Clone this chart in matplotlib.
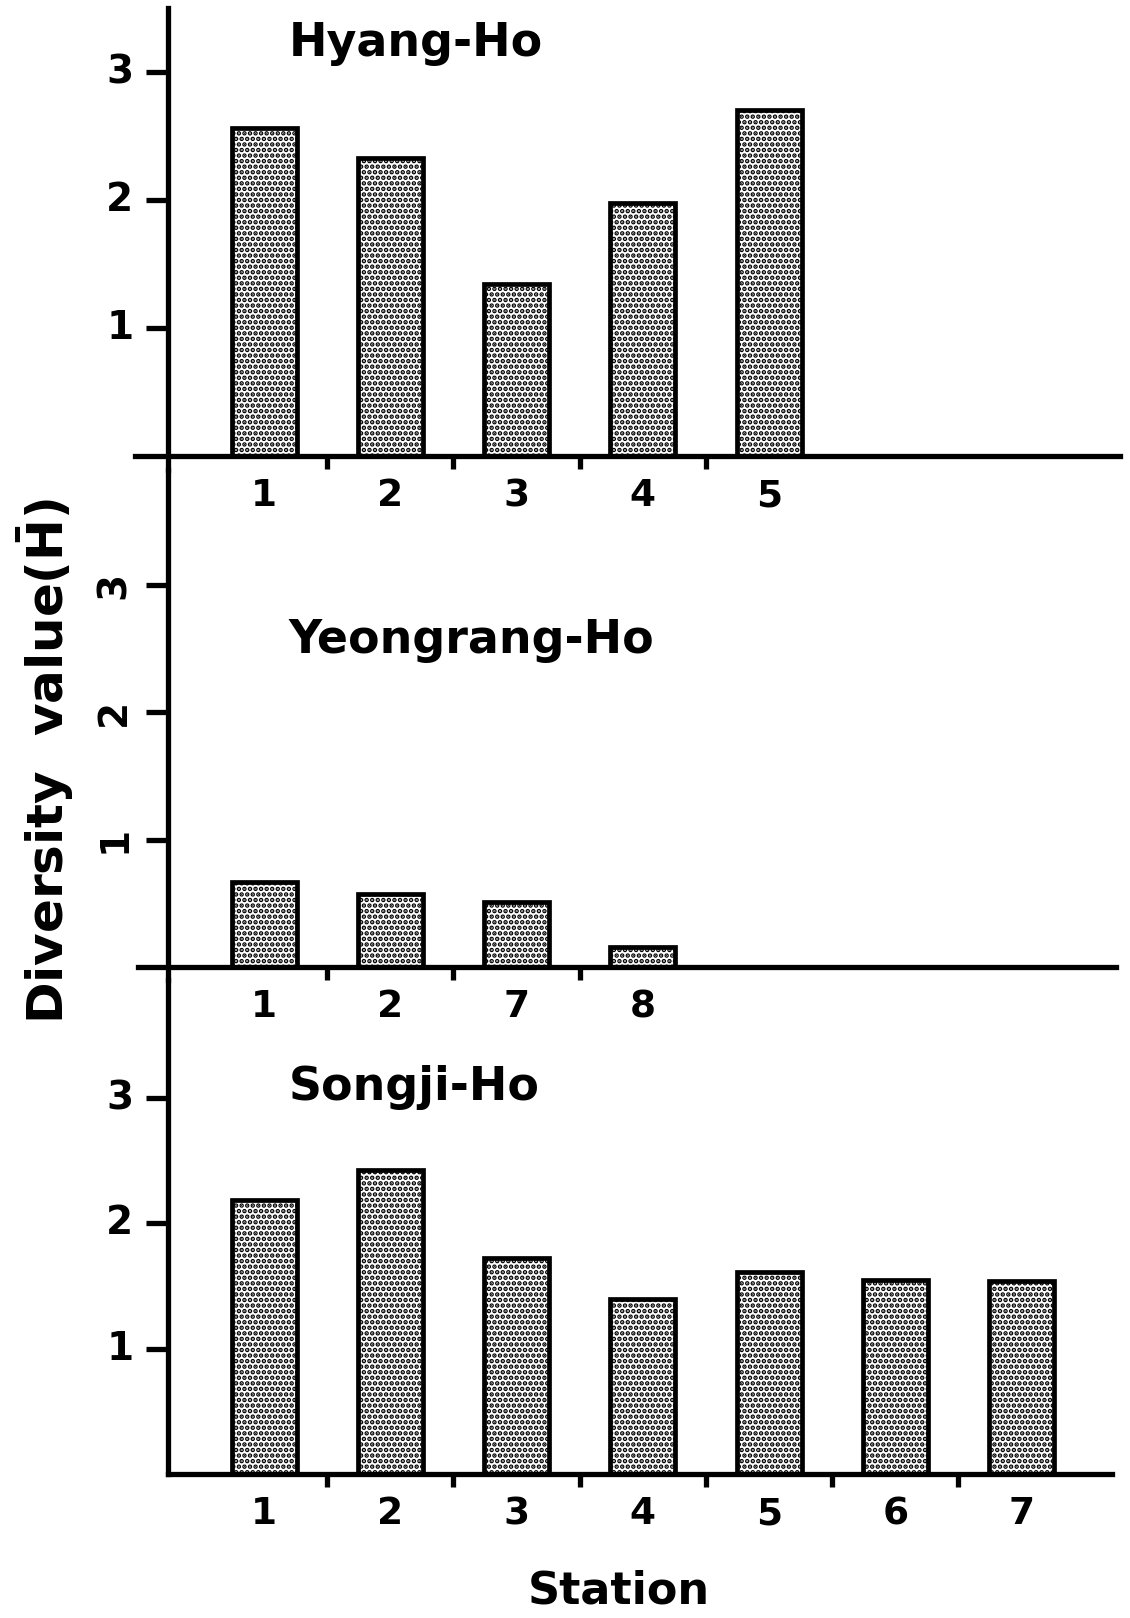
import matplotlib
matplotlib.use("Agg")
import matplotlib.pyplot as plt

# Shannon diversity (H-bar) per station for each lake
hyang_stations = ["1", "2", "3", "4", "5"]
hyang_values = [2.56, 2.33, 1.34, 1.98, 2.70]

yeongrang_stations = ["1", "2", "7", "8"]
yeongrang_values = [0.67, 0.57, 0.51, 0.16]

songji_stations = ["1", "2", "3", "4", "5", "6", "7"]
songji_values = [2.19, 2.43, 1.72, 1.40, 1.61, 1.55, 1.54]

lake_names = ["Hyang-Ho", "Yeongrang-Ho", "Songji-Ho"]
y_ticks = [1, 2, 3]

plt.rcParams["font.family"] = ["DejaVu Sans"]
plt.rcParams["font.weight"] = "bold"
plt.rcParams["mathtext.default"] = "bf"
plt.rcParams["hatch.linewidth"] = 2.3
plt.rcParams["hatch.color"] = "black"

W, H = 1130, 1618
fig = plt.figure(figsize=(W / 100, H / 100), dpi=100)

# panel layout in pixels: (top, bottom, baseline, px per unit, baseline ends)
X_LEFT, X_RIGHT = -0.03, 7.78
AX_X0, AX_X1 = 134, 1120
AXIS_POS = 0.24
panels = [
    dict(top=8, bottom=470, base=456, unit=128.0, x0=-0.02, x1=7.78, rot=0),
    dict(top=470, bottom=980, base=967, unit=127.3, x0=0.0, x1=7.75, rot=90),
    dict(top=980, bottom=1474, base=1474, unit=125.3, x0=AXIS_POS, x1=7.72, rot=0),
]
title_y = [43, 640, 1088]
data = [
    (hyang_stations, hyang_values),
    (yeongrang_stations, yeongrang_values),
    (songji_stations, songji_values),
]

LW = 3.8
for p, (stations, values), name, ty in zip(panels, data, lake_names, title_y):
    ax = fig.add_axes([AX_X0 / W, 1 - p["bottom"] / H,
                       (AX_X1 - AX_X0) / W, (p["bottom"] - p["top"]) / H])
    ymin = (p["base"] - p["bottom"]) / p["unit"]
    ymax = (p["base"] - p["top"]) / p["unit"]
    ax.set_ylim(ymin, ymax)
    ax.set_xlim(X_LEFT, X_RIGHT)
    ax.patch.set_alpha(0)

    pos = list(range(1, len(values) + 1))
    ax.bar(pos, values, width=0.515, facecolor="white", edgecolor="black",
           linewidth=3.4, hatch="...", zorder=2)

    for side in ("top", "right"):
        ax.spines[side].set_visible(False)
    ax.spines["left"].set_position(("data", AXIS_POS))
    ax.spines["left"].set_linewidth(LW)
    ax.spines["left"].set_capstyle("projecting")
    ax.spines["bottom"].set_position(("data", 0))
    ax.spines["bottom"].set_bounds(p["x0"], p["x1"])
    ax.spines["bottom"].set_linewidth(LW)
    ax.spines["bottom"].set_zorder(3)

    ax.set_yticks(y_ticks)
    ax.set_yticklabels([str(t) for t in y_ticks], fontsize=28,
                       fontweight="bold", rotation=p["rot"],
                       va="center")
    ax.tick_params(axis="y", direction="out", length=16, width=3.8, pad=9)

    ax.set_xticks([i + 0.5 for i in pos[:-1]])
    ax.set_xticklabels([])
    ax.tick_params(axis="x", which="major", direction="out", length=9,
                   width=3.8)
    ax.set_xticks(pos, labels=stations, minor=True)
    ax.tick_params(axis="x", which="minor", length=0, pad=16, labelsize=27)
    for lbl in ax.get_xticklabels(minor=True):
        lbl.set_fontweight("bold")

    fig.text(289 / W, 1 - ty / H, name, fontsize=33, fontweight="bold",
             ha="left", va="center")

fig.text(45 / W, 1 - 761 / H, r"Diversity  value($\bar{H}$)", fontsize=36,
         fontweight="bold", rotation=90, ha="center", va="center")
fig.text(619 / W, 1 - 1591 / H, "Station", fontsize=32, fontweight="bold",
         ha="center", va="center")

fig.savefig("out.png", dpi=100, facecolor="white")
